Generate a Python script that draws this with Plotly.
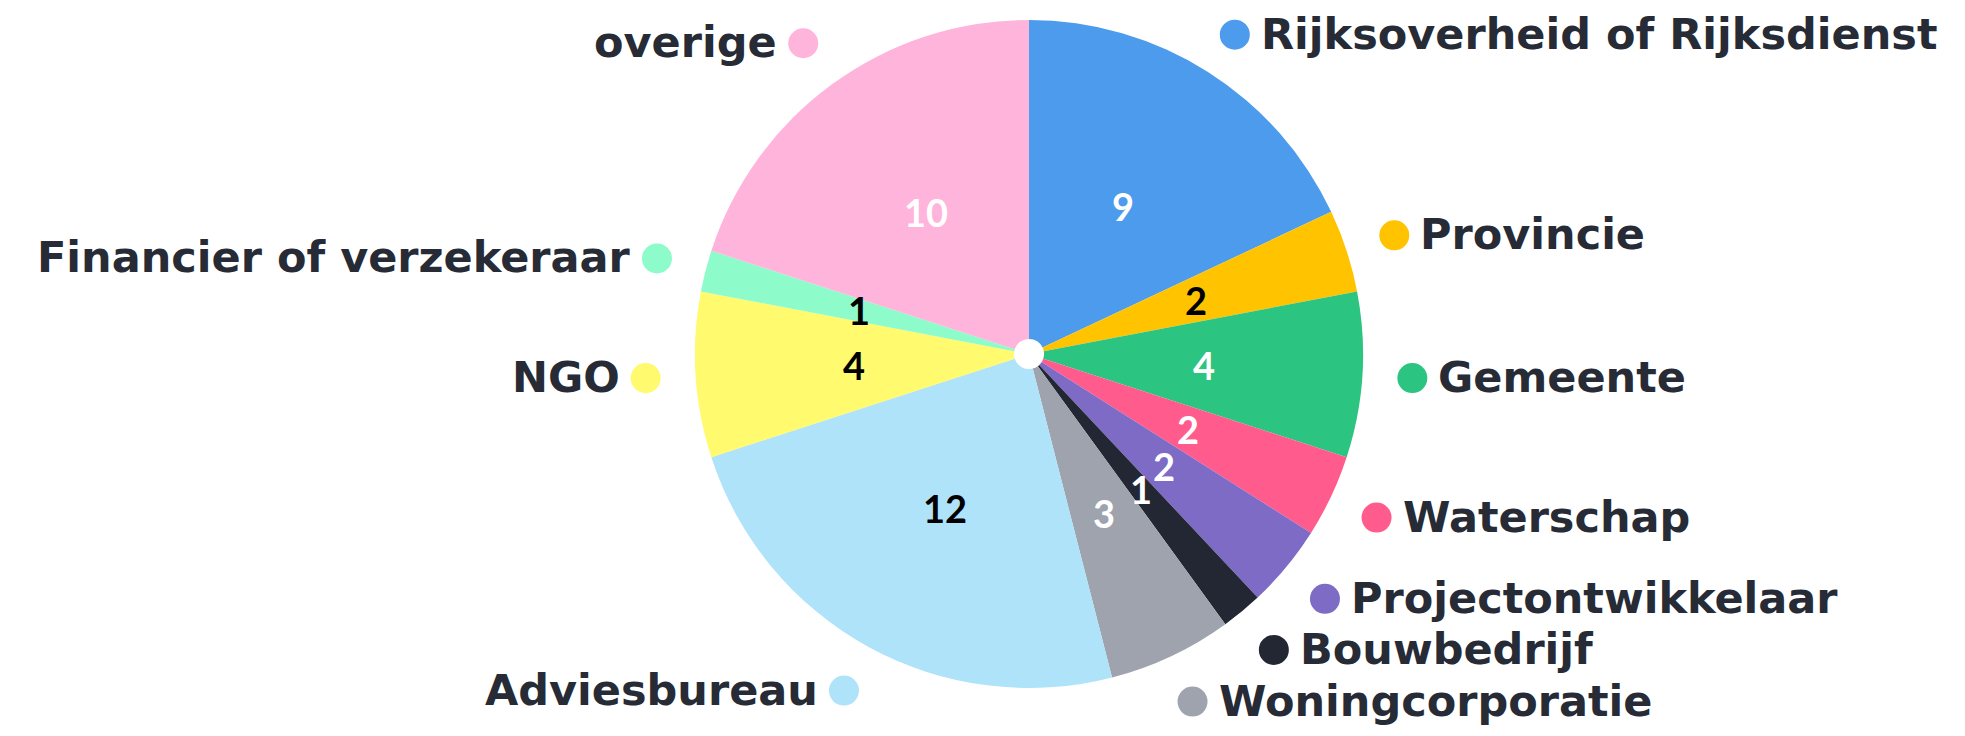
import math
import plotly.graph_objects as go

categories = ["Rijksoverheid of Rijksdienst", "Provincie", "Gemeente", "Waterschap",
              "Projectontwikkelaar", "Bouwbedrijf", "Woningcorporatie", "Adviesbureau",
              "NGO", "Financier of verzekeraar", "overige"]
values = [9, 2, 4, 2, 2, 1, 3, 12, 4, 1, 10]
colors = ["#4D9BEC", "#FFC300", "#2BC480", "#FF5C8D", "#7D6BC6", "#222733", "#9EA3AE",
          "#AEE3FA", "#FFFA6E", "#8EFBCB", "#FFB4DC"]
value_text_colors = ["white", "black", "white", "white", "white", "white", "white",
                     "black", "black", "black", "white"]

# page has an 8px body margin, so the figure is drawn 8px in from the top-left
OFF = 8
W, H = 1965 - OFF, 736 - OFF
cx_px, cy_px, r_px = 1029 - OFF, 354 - OFF, 334
dom_x = [(cx_px - r_px) / W, (cx_px + r_px) / W]
dom_y = [1 - (cy_px + r_px) / H, 1 - (cy_px - r_px) / H]

LABEL_FONT = "DejaVu Sans"
VALUE_FONT = "Lato"
TXT = "#262B36"
# small vertical nudge (px, downward) for labels that would touch the top edge
label_nudge = {"Rijksoverheid of Rijksdienst": 5}

fig = go.Figure(go.Pie(
    labels=categories, values=values, sort=False, direction="clockwise", rotation=0,
    hole=0.045, marker=dict(colors=colors, line=dict(width=0)),
    textinfo="none", hoverinfo="label+value", showlegend=False,
    domain=dict(x=dom_x, y=dom_y),
))

total = sum(values)
cum = 0
annotations = []
shapes = []
for cat, v, col, tcol in zip(categories, values, colors, value_text_colors):
    mid = (cum + v / 2) / total * 2 * math.pi
    cum += v
    s, c = math.sin(mid), math.cos(mid)
    # value label inside
    vx = (cx_px + 0.525 * r_px * s) / W
    vy = 1 - (cy_px - 0.525 * r_px * c) / H
    annotations.append(dict(x=vx, y=vy, xref="paper", yref="paper", text=str(v),
                            showarrow=False, xanchor="center", yanchor="middle",
                            font=dict(family=VALUE_FONT, size=38, color=tcol, weight=700)))
    # dot + category label outside
    nd = label_nudge.get(cat, 0)
    dx = (cx_px + 1.15 * r_px * s) / W
    dy = 1 - (cy_px - 1.15 * r_px * c) / H
    shapes.append(dict(type="circle", xref="paper", yref="paper", xsizemode="pixel",
                       ysizemode="pixel", xanchor=dx, yanchor=dy, x0=-15, x1=15,
                       y0=-15 - nd, y1=15 - nd, fillcolor=col, line=dict(width=0)))
    right = s > 0
    annotations.append(dict(x=dx, y=dy, xref="paper", yref="paper", text=cat,
                            showarrow=False, xanchor="left" if right else "right",
                            yanchor="middle", xshift=24 if right else -24, yshift=1 - nd,
                            font=dict(family=LABEL_FONT, size=43, color=TXT, weight="bold")))

fig.update_layout(width=W, height=H, margin=dict(l=0, r=0, t=0, b=0),
                  paper_bgcolor="white", plot_bgcolor="white",
                  annotations=annotations, shapes=shapes)
fig.write_html("out.html")
